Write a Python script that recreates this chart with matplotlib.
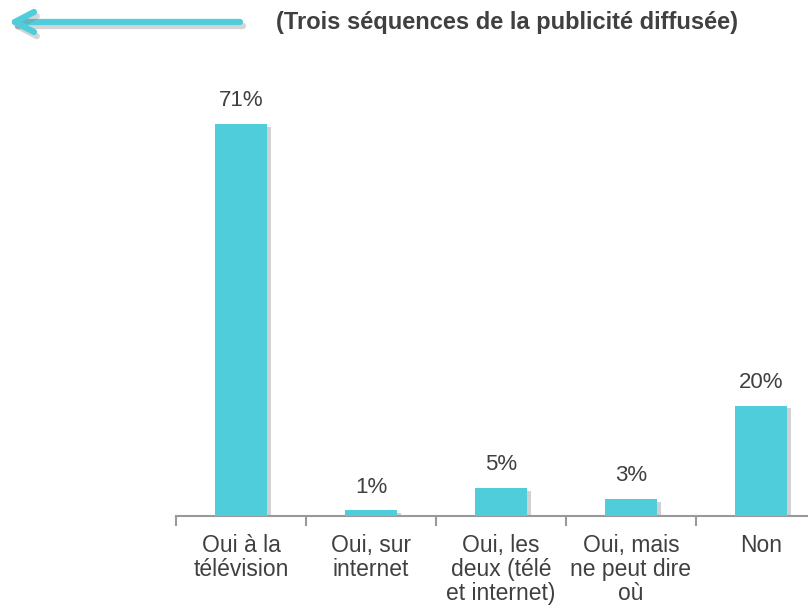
import numpy as np
import matplotlib
matplotlib.use('Agg')
import matplotlib.pyplot as plt
import matplotlib.patheffects as pe
from matplotlib.lines import Line2D

categories = ['Oui à la\ntélévision', 'Oui, sur\ninternet', 'Oui, les\ndeux (télé\net internet)',
              'Oui, mais\nne peut dire\noù', 'Non']
values = [71, 1, 5, 3, 20]
value_labels = ['71%', '1%', '5%', '3%', '20%']

plt.rcParams['font.family'] = ['Liberation Sans', 'DejaVu Sans']
bar_color = '#50CDDB'
text_color = '#404040'

fig = plt.figure(figsize=(8.08, 6.13), dpi=100)
ax = fig.add_axes([176/808, 1-516/613, 650/808, 441.6/613])

x = np.arange(len(values))
shadow = [pe.SimplePatchShadow(offset=(3, -2), shadow_rgbFace='#999999', alpha=0.45), pe.Normal()]
bars = ax.bar(x, values, width=0.4, color=bar_color, path_effects=shadow, zorder=3)
for xi, v, lab in zip(x, values, value_labels):
    ax.text(xi, v + 4.25, lab, ha='center', va='center', fontsize=16, color=text_color)

ax.set_xlim(-0.5, len(values) - 0.5)
ax.set_ylim(0, 80)
for s in ['top', 'right', 'left']:
    ax.spines[s].set_visible(False)
ax.spines['bottom'].set_color('#999999')
ax.spines['bottom'].set_linewidth(1.5)
ax.set_yticks([])
ax.set_xticks(np.arange(len(values) + 1) - 0.5, minor=True)
ax.set_xticks(x)
ax.set_xticklabels(categories, fontsize=16.5, color=text_color, linespacing=1.05)
ax.tick_params(axis='x', which='major', length=0, pad=13)
ax.tick_params(axis='x', which='minor', length=7, width=1.5, color='#999999', direction='out')

# titre et fleche
fig.text(507/808, 1-22/613, '(Trois séquences de la publicité diffusée)', ha='center', va='center',
         fontsize=17, fontweight='bold', color=text_color)
arrow_pe = [pe.SimpleLineShadow(offset=(2, -3), shadow_color='#888888', alpha=0.35), pe.Normal()]
for xs, ys in [([240, 15], [22, 22]), ([15, 34], [22, 12]), ([15, 34], [22, 32])]:
    fig.add_artist(Line2D(np.array(xs)/808, 1-np.array(ys)/613, transform=fig.transFigure,
                          color=bar_color, lw=4.5, solid_capstyle='round', path_effects=arrow_pe))

fig.savefig('out.png', dpi=100)
plt.close()
